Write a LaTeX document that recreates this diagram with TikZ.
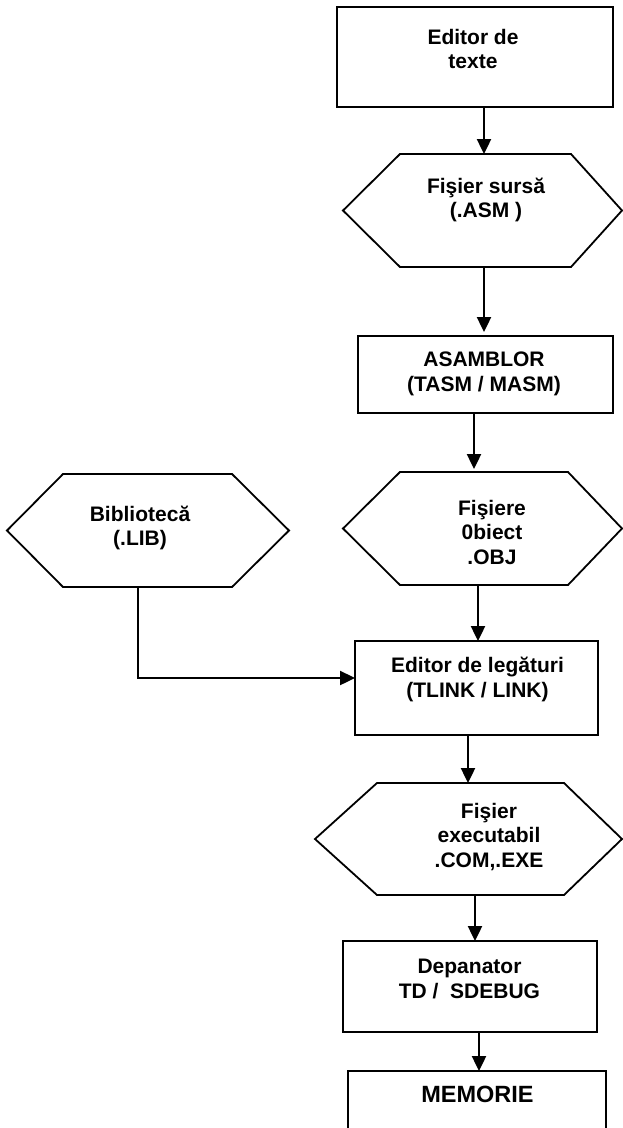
\documentclass[tikz,border=0pt]{standalone}
\usepackage{fontspec}
\setmainfont{Liberation Sans}
\usetikzlibrary{calc,arrows.meta}
\newcommand\drawhex[3]{%
  \draw[shapeline] (#1.west) -- ($(#1.north west)+(#2,0)$) -- ($(#1.north east)+(-#3,0)$) -- (#1.east)
    -- ($(#1.south east)+(-#3,0)$) -- ($(#1.south west)+(#2,0)$) -- cycle;}
\begin{document}
\begin{tikzpicture}[x=1pt,y=-1pt,
  shapeline/.style={line width=1.8pt,line join=miter},
  boxnode/.style={draw,shapeline,rectangle,inner sep=0pt,outer sep=0pt},
  hexbox/.style={rectangle,inner sep=0pt,outer sep=0pt},
  lbl/.style={font=\fontsize{21}{24.5}\selectfont\bfseries,align=center,inner sep=0pt},
  arr/.style={line width=2.4pt,-{Triangle[length=15pt,width=14pt]}}]
\useasboundingbox (0,0) rectangle (623,1128);
\clip (0,0) rectangle (623,1128);
\fill[white] (0,0) rectangle (623,1128);
% rectangles
\node[boxnode,minimum width=276pt,minimum height=100pt] (r1) at (475,57) {};
\node[boxnode,minimum width=255pt,minimum height=77pt] (r2) at (485.5,374.5) {};
\node[boxnode,minimum width=243pt,minimum height=94pt] (r3) at (476.5,688) {};
\node[boxnode,minimum width=254pt,minimum height=91pt] (r4) at (470,986.5) {};
\node[boxnode,minimum width=258pt,minimum height=80pt] (r5) at (477,1111) {};
% hexagons
\node[hexbox,minimum width=279pt,minimum height=113pt] (h1) at (482.5,210.5) {};
\node[hexbox,minimum width=279pt,minimum height=113pt] (h2) at (482.5,528.5) {};
\node[hexbox,minimum width=282pt,minimum height=113pt] (h3) at (148,530.5) {};
\node[hexbox,minimum width=307pt,minimum height=112pt] (h4) at (468.5,839) {};
\drawhex{h1}{57}{51}
\drawhex{h2}{57}{54}
\drawhex{h3}{56}{57}
\drawhex{h4}{62}{58}
% labels
\node[lbl] (t1) at (473,49) {Editor de\\texte};
\node[lbl] (t2) at (486,200) {Fişier sursă\\(.ASM )};
\node[lbl] (t3) at (484,374) {ASAMBLOR\\(TASM / MASM)};
\node[lbl] (t4) at (492,532) {Fişiere\\0biect\\.OBJ};
\node[lbl] (t5) at (140,528) {Bibliotecă\\(.LIB)};
\node[lbl] (t6) at (477.5,679.5) {Editor de legături\\(TLINK / LINK)};
\node[lbl] (t7) at (489,837) {Fişier\\executabil\\.COM,.EXE};
\node[lbl] (t8) at (469.5,979) {Depanator\\TD /\ \ SDEBUG};
\node[lbl,font=\fontsize{23.5}{27}\selectfont\bfseries] (t9) at (477.5,1094.5) {MEMORIE};
% connectors
\draw[arr] ($(r1.south)+(9,0)$) coordinate (a1) -- (a1 |- h1.north);
\draw[arr] ($(h1.south)+(1.5,0)$) coordinate (a2) -- ($(a2 |- r2.north)+(0,-4)$);
\draw[arr] ($(r2.south)+(-11.5,0)$) coordinate (a3) -- ($(a3 |- h2.north)+(0,-3)$);
\draw[arr] ($(h2.south)+(-4.5,0)$) coordinate (a4) -- (a4 |- r3.north);
\draw[arr] ($(h3.south)+(-10,0)$) |- ($(r3.west)+(0,-10)$);
\draw[arr] ($(r3.south)+(-8.5,0)$) coordinate (a5) -- (a5 |- h4.north);
\draw[arr] ($(h4.south)+(6.5,0)$) coordinate (a6) -- (a6 |- r4.north);
\draw[arr] ($(r4.south)+(9,0)$) coordinate (a7) -- (a7 |- r5.north);
\end{tikzpicture}
\end{document}
